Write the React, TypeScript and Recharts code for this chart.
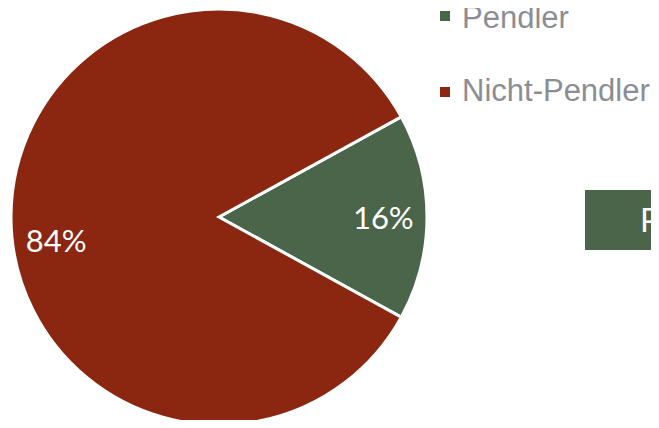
import { PieChart, Pie, Cell } from "recharts";

const categories = ["Pendler", "Nicht-Pendler"];
const shares = [16, 84];
const colors = ["#4A6549", "#8B2710"];

const data = categories.map((name, i) => ({ name, value: shares[i], color: colors[i] }));

const RAD = Math.PI / 180;

const renderLabel = (props: any) => {
  const { cx, cy, midAngle, outerRadius, index, value } = props;
  // nudge the big slice's label a bit below the horizontal, like the original
  const angle = midAngle + (index === 1 ? 8 : 0);
  const r = outerRadius * 0.79;
  const x = cx + r * Math.cos(-angle * RAD);
  const y = cy + r * Math.sin(-angle * RAD);
  return (
    <text
      x={x}
      y={y}
      fill="#ffffff"
      textAnchor="middle"
      dominantBaseline="central"
      fontFamily="Lato, sans-serif"
      fontSize={31}
    >
      {`${value}%`}
    </text>
  );
};

const ChartLegend = () => (
  <div style={{ position: "absolute", left: 440, top: 0 }}>
    {data.map((item, i) => (
      <div key={item.name}>
        <div
          style={{
            position: "absolute",
            left: 0,
            top: 11 + i * 76,
            width: 10,
            height: 10,
            backgroundColor: item.color,
          }}
        />
        <span
          style={{
            position: "absolute",
            left: 22,
            top: 2 + i * 73,
            fontFamily: "'Liberation Sans', Arial, sans-serif",
            fontSize: 31,
            lineHeight: 1,
            color: "#8A8E94",
            whiteSpace: "nowrap",
          }}
        >
          {item.name}
        </span>
      </div>
    ))}
  </div>
);

export default function App() {
  return (
    <div
      style={{
        position: "relative",
        width: 659,
        height: 428,
        margin: -8,
        overflow: "hidden",
        background: "#ffffff",
      }}
    >
      <PieChart width={659} height={428} margin={{ top: 0, right: 0, bottom: 0, left: 0 }}>
        <Pie
          data={data}
          dataKey="value"
          nameKey="name"
          cx={219}
          cy={217}
          outerRadius={208}
          startAngle={28.8}
          endAngle={28.8 - 360}
          stroke="#ffffff"
          strokeWidth={3}
          label={renderLabel}
          labelLine={false}
          isAnimationActive={false}
        >
          {data.map((entry, index) => (
            <Cell key={`cell-${index}`} fill={entry.color} />
          ))}
        </Pie>
      </PieChart>
      <ChartLegend />
      <div
        style={{
          position: "absolute",
          left: 585,
          top: 190,
          width: 120,
          height: 60,
          backgroundColor: "#4A6549",
          color: "#ffffff",
          fontFamily: "Lato, sans-serif",
          fontSize: 32,
          lineHeight: "60px",
          paddingLeft: 55,
          boxSizing: "border-box",
        }}
      >
        P
      </div>
    </div>
  );
}
